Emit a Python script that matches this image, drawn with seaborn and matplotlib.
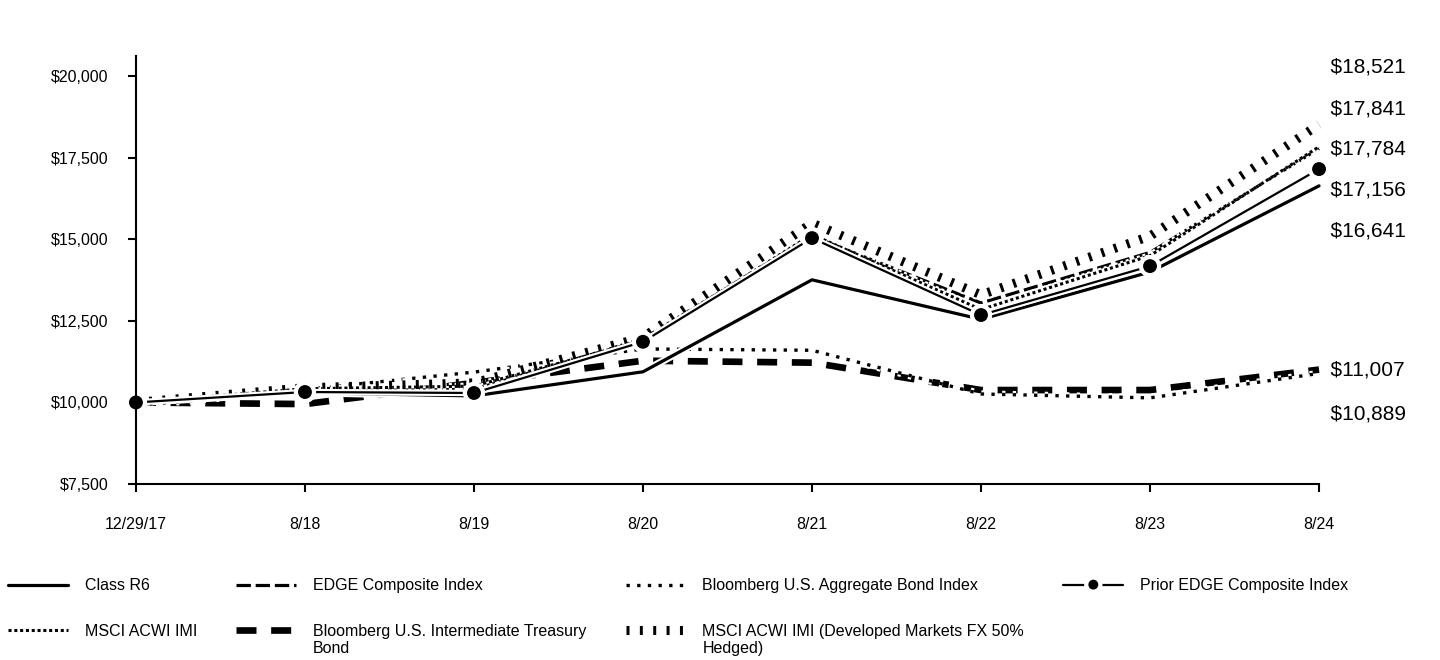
import numpy as np
import pandas as pd
import matplotlib
matplotlib.use("Agg")
import matplotlib.pyplot as plt
import matplotlib.patheffects as pe
import seaborn as sns

# DATA
dates = ["12/29/17", "8/18", "8/19", "8/20", "8/21", "8/22", "8/23", "8/24"]

class_r6 = [10000, 10300, 10200, 10940, 13760, 12550, 14000, 16641]
edge_composite = [10000, 10350, 10400, 11950, 15100, 13050, 14600, 17784]
bbg_aggregate = [10000, 10400, 10930, 11640, 11600, 10260, 10140, 10889]
prior_edge = [10000, 10320, 10290, 11860, 15040, 12680, 14180, 17156]
msci_acwi_imi = [10000, 10420, 10500, 11900, 15150, 12850, 14500, 17841]
bbg_treasury = [10000, 9950, 10600, 11280, 11220, 10380, 10380, 11007]
msci_hedged = [10000, 10450, 10600, 12000, 15500, 13300, 15100, 18521]

names = ["Class R6", "EDGE Composite Index", "Bloomberg U.S. Aggregate Bond Index",
         "Prior EDGE Composite Index", "MSCI ACWI IMI",
         "Bloomberg U.S. Intermediate Treasury\nBond",
         "MSCI ACWI IMI (Developed Markets FX 50%\nHedged)"]
series = [class_r6, edge_composite, bbg_aggregate, prior_edge,
          msci_acwi_imi, bbg_treasury, msci_hedged]

# line styles: (linewidth, linestyle, marker)
styles = [
    (2.3, "-", None),
    (2.3, (0, (4.5, 1.5)), None),
    (2.4, (0, (1, 2.2)), None),
    (1.6, "-", "o"),
    (2.2, (0, (1, 0.9)), None),
    (4.8, (0, (3.0, 2.2)), None),
    (6.5, (0, (0.33, 1.15)), None),
]

sns.set_style("white")
plt.rcParams["font.family"] = ["Liberation Sans", "DejaVu Sans"]
for k in ["text.color", "axes.labelcolor", "xtick.color", "ytick.color"]:
    plt.rcParams[k] = "black"

fig = plt.figure(figsize=(14.4, 6.6), dpi=100)
ax = fig.add_axes([0.0944, 0.2667, 0.9160 - 0.0944, 0.915 - 0.2667])

x = np.arange(len(dates))
draw_order = [5, 2, 0, 1, 4, 6, 3]
for i in draw_order:
    lw, ls, mk = styles[i]
    kw = dict(color="black", linewidth=lw, linestyle=ls, label=names[i],
              path_effects=[pe.Stroke(linewidth=lw + 3, foreground="white"), pe.Normal()])
    if mk:
        kw.update(marker="o", markersize=11.5, markerfacecolor="black",
                  markeredgecolor="white", markeredgewidth=1.5)
    sns.lineplot(x=x, y=series[i], ax=ax, clip_on=False, **kw)

ax.set_xlim(0, len(dates) - 1)
ax.set_ylim(7500, 20620)
ax.set_xticks(x)
ax.set_xticklabels(dates)
yt = [7500, 10000, 12500, 15000, 17500, 20000]
ax.set_yticks(yt)
ax.set_yticklabels([f"${v:,}" for v in yt])
ax.tick_params(axis="both", which="major", length=6, width=1.5, color="black",
               labelsize=11.5, direction="out", bottom=True, left=True)
ax.tick_params(axis="x", pad=18)
ax.tick_params(axis="y", pad=14)
for s in ["top", "right"]:
    ax.spines[s].set_visible(False)
for s in ["left", "bottom"]:
    ax.spines[s].set_linewidth(1.5)
    ax.spines[s].set_color("black")
ax.set_xlabel("")
ax.set_ylabel("")

# end value labels, spread apart so they don't collide
end_vals = [msci_hedged[-1], msci_acwi_imi[-1], edge_composite[-1], prior_edge[-1],
            class_r6[-1], bbg_treasury[-1], bbg_aggregate[-1]]
label_y = [20282, 18995, 17770, 16513, 15257, 10999, 9651]
for v, ly in zip(end_vals, label_y):
    ax.text(len(dates) - 1, ly, f"  ${v:,}", fontsize=15, va="center", ha="left",
            clip_on=False)

# legend in original order
handles, labels = ax.get_legend_handles_labels()
lookup = dict(zip(labels, handles))
order = [0, 4, 1, 5, 2, 6, 3]
if ax.get_legend():
    ax.get_legend().remove()
leg = fig.legend([lookup[names[i]] for i in order], [names[i] for i in order],
                 loc="upper left", bbox_to_anchor=(0.0, 0.136), ncol=4,
                 frameon=False, fontsize=11.5, handlelength=3.75, handletextpad=1.06,
                 columnspacing=2.45, labelspacing=1.93, borderpad=0, markerscale=0.75)

# put handles of two-line entries next to the first line
try:
    for col in leg._legend_handle_box.get_children():
        for item in col.get_children():
            txt = item.get_children()[1]
            if "\n" in txt.get_text():
                item.align = "top"
except Exception:
    pass

fig.savefig("out.png", dpi=100)
